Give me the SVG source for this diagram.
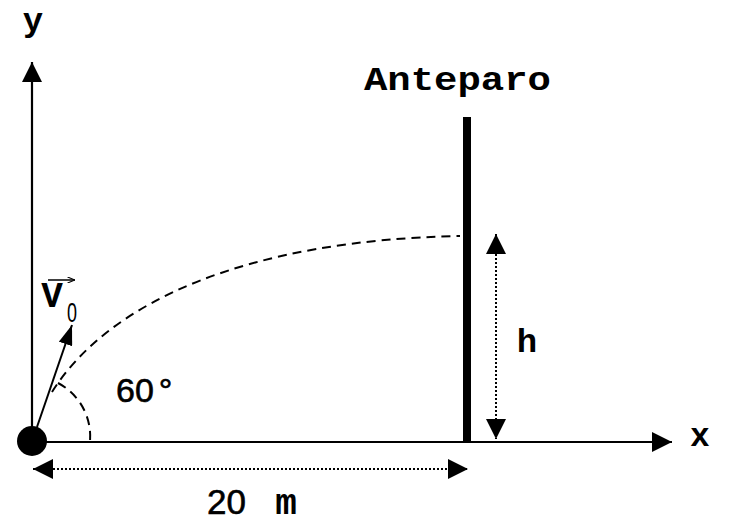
<svg xmlns="http://www.w3.org/2000/svg" width="731" height="527" viewBox="0 0 731 527">
<style>
.mono{font-family:"Liberation Mono","Courier New",monospace;font-weight:bold;fill:#000}
.sans{font-family:"Liberation Sans",Arial,sans-serif;fill:#000}
.axis{stroke:#000;stroke-width:2.2;fill:none}
.dash{stroke:#000;stroke-width:2;fill:none;stroke-dasharray:9 6}
.dot{stroke:#000;stroke-width:2;fill:none;stroke-dasharray:2 2}
</style>
<defs>
<marker id="ah" viewBox="0 0 20 20" refX="20" refY="10" markerWidth="20" markerHeight="20" markerUnits="userSpaceOnUse" orient="auto-start-reverse">
<path d="M0,0 L20,10 L0,20 Z" fill="#000"/>
</marker>
<marker id="ahv" viewBox="0 0 20 14" refX="20" refY="7" markerWidth="20" markerHeight="14" markerUnits="userSpaceOnUse" orient="auto">
<path d="M0,0 L20,7 L0,14 Z" fill="#000"/>
</marker>
<marker id="ahs" viewBox="0 0 10 8" refX="10" refY="4" markerWidth="8" markerHeight="6" markerUnits="userSpaceOnUse" orient="auto">
<path d="M0,0 L10,4 L0,8" fill="none" stroke="#000" stroke-width="1.5"/>
</marker>
</defs>
<rect width="731" height="527" fill="#fff"/>
<g id="connectors">
<line class="axis" x1="32" y1="441" x2="32" y2="62" marker-end="url(#ah)"/>
<line class="axis" x1="32" y1="442" x2="672" y2="442" marker-end="url(#ah)"/>
<path class="dash" d="M52,392 C110,300 250,240 460,236"/>
<path class="dash" d="M58,383 A60,60 0 0 1 90,441"/>
<line x1="37" y1="427" x2="72" y2="325" stroke="#000" stroke-width="2" marker-end="url(#ahv)"/>
<line class="dot" x1="33" y1="469" x2="468" y2="469" marker-start="url(#ah)" marker-end="url(#ah)"/>
<line class="dot" x1="496" y1="234" x2="496" y2="439" marker-start="url(#ah)" marker-end="url(#ah)"/>
</g>
<g id="ball"><circle cx="32" cy="441" r="15" fill="#000"/></g>
<g id="anteparo">
<rect x="463" y="117" width="8" height="325" fill="#000"/>
<text class="mono" x="364" y="90" font-size="34" textLength="187" lengthAdjust="spacingAndGlyphs">Anteparo</text>
</g>
<g id="labels">
<text class="mono" x="33" y="31" font-size="34" text-anchor="middle">y</text>
<text class="mono" x="700" y="446" font-size="33" text-anchor="middle">x</text>
<text class="mono" x="527" y="352" font-size="34" text-anchor="middle">h</text>
<text class="sans" x="116" y="402" font-size="34" stroke="#000" stroke-width="0.6">60<tspan dx="5">°</tspan></text>
<text class="sans" x="207" y="514" font-size="35" stroke="#000" stroke-width="0.6">20</text>
<text class="mono" x="286" y="514" font-size="36" text-anchor="middle">m</text>
<text class="mono" x="52" y="307" font-size="36" text-anchor="middle">V</text>
<text class="sans" x="67" y="322" font-size="27" textLength="10" lengthAdjust="spacingAndGlyphs">0</text>
<line x1="48" y1="280" x2="75" y2="280" stroke="#000" stroke-width="1.5" marker-end="url(#ahs)"/>
</g>
</svg>
